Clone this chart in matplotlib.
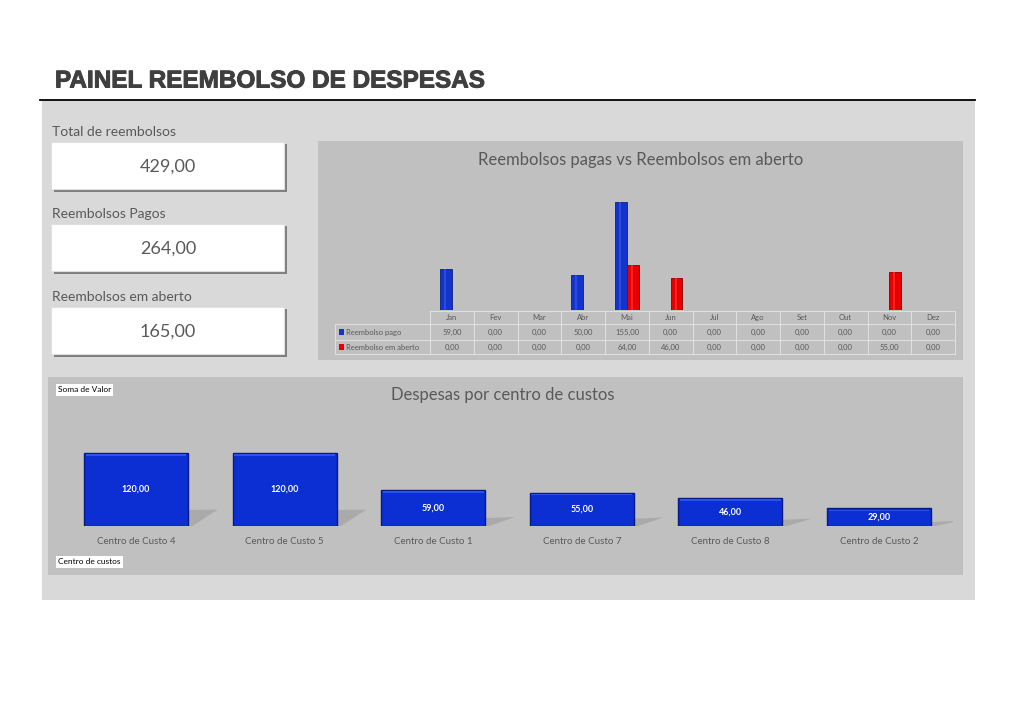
import numpy as np
import matplotlib
matplotlib.use("Agg")
import matplotlib.pyplot as plt
import matplotlib.patheffects as pe
from matplotlib.patches import Rectangle, Polygon
from matplotlib.lines import Line2D

W, H = 1024, 722

# data
kpi_labels = ["Total de reembolsos", "Reembolsos Pagos", "Reembolsos em aberto"]
kpi_values = [429.00, 264.00, 165.00]

meses = ["Jan", "Fev", "Mar", "Abr", "Mai", "Jun", "Jul", "Ago", "Set", "Out", "Nov", "Dez"]
pago = [59, 0, 0, 50, 155, 0, 0, 0, 0, 0, 0, 0]
aberto = [0, 0, 0, 0, 64, 46, 0, 0, 0, 0, 55, 0]
series_names = ["Reembolso pago", "Reembolso em aberto"]

centros = ["Centro de Custo 4", "Centro de Custo 5", "Centro de Custo 1",
           "Centro de Custo 7", "Centro de Custo 8", "Centro de Custo 2"]
valores = [120, 120, 59, 55, 46, 29]


def fx(x):
    return x / W


def fy(y):
    return 1 - y / H


def br(v):
    return ("%.2f" % v).replace(".", ",")


def frect(x0, y0, x1, y1, **kw):
    r = Rectangle((fx(x0), fy(y1)), (x1 - x0) / W, (y1 - y0) / H,
                  transform=fig.transFigure, zorder=-1, **kw)
    fig.add_artist(r)
    return r


def fline(x0, y0, x1, y1, **kw):
    fig.add_artist(Line2D([fx(x0), fx(x1)], [fy(y0), fy(y1)],
                          transform=fig.transFigure, **kw))


plt.rcParams['font.family'] = ['Lato', 'DejaVu Sans']
fig = plt.figure(figsize=(W / 100, H / 100), dpi=100)
fig.patch.set_facecolor("white")

gray_txt = "#595959"

# title and main panel
fig.text(fx(55), fy(81), "PAINEL REEMBOLSO DE DESPESAS", fontsize=17.5,
         fontweight="bold", color="#3f3f3f", family="Liberation Sans",
         va="center", ha="left",
         path_effects=[pe.withStroke(linewidth=0.7, foreground="#3f3f3f")])
frect(42, 100, 975, 600, facecolor="#d9d9d9", edgecolor="none")
fline(40, 100, 975, 100, color="black", lw=1.3)

# KPI boxes
box_tops = [142, 224, 307]
for lab, val, top in zip(kpi_labels, kpi_values, box_tops):
    fig.text(fx(52), fy(top - 10), lab, fontsize=10, color=gray_txt,
             va="center", ha="left")
    frect(54, top + 2, 287, top + 50, facecolor="#7f7f7f", edgecolor="none")
    frect(51, top, 284, top + 47, facecolor="white", edgecolor="#e0e0e0", lw=0.8)
    fig.text(fx(168), fy(top + 25), br(val), fontsize=13, color=gray_txt,
             va="center", ha="center")

# top chart panel
frect(318, 141, 963, 360, facecolor="#c0c0c0", edgecolor="none")
fig.text(fx(641), fy(160), "Reembolsos pagas vs Reembolsos em aberto",
         fontsize=12, color=gray_txt, va="center", ha="center")

ax1 = fig.add_axes([fx(430), fy(310), (955 - 430) / W, (310 - 190) / H])
ax1.set_zorder(5)
ax1.set_facecolor("none")
x = np.arange(len(meses))
bw = 0.27
ax1.bar(x - bw / 2, pago, bw, color="#1234c8", edgecolor="#0a1f80", lw=0.6)
ax1.bar(x + bw / 2, aberto, bw, color="#e60000", edgecolor="#8a0000", lw=0.6)
# softer highlight for cylinder look
ax1.bar(x - bw / 2 - bw * 0.08, pago, bw * 0.18, color="#2b4ae0", lw=0)
ax1.bar(x + bw / 2 - bw * 0.08, aberto, bw * 0.18, color="#ff2020", lw=0)
ax1.set_xlim(-0.5, len(meses) - 0.5)
ax1.set_ylim(0, 172)
ax1.axis("off")

# data table
col_w = (955 - 430) / len(meses)
grid_c = "#dedede"
rows_y = [311, 324, 340, 354]
for i in range(len(meses) + 1):
    xx = 430 + i * col_w
    fline(xx, rows_y[0], xx, rows_y[3], color=grid_c, lw=0.8)
fline(335, rows_y[1], 335, rows_y[3], color=grid_c, lw=0.8)
fline(430, rows_y[0], 955, rows_y[0], color=grid_c, lw=0.8)
for yy in rows_y[1:]:
    fline(335, yy, 955, yy, color=grid_c, lw=0.8)
for i, m in enumerate(meses):
    cx = 430 + (i + 0.5) * col_w
    fig.text(fx(cx), fy(317.5), m, fontsize=5.5, color=gray_txt, ha="center", va="center")
    fig.text(fx(cx), fy(332), br(pago[i]), fontsize=5.5, color=gray_txt, ha="center", va="center")
    fig.text(fx(cx), fy(347), br(aberto[i]), fontsize=5.5, color=gray_txt, ha="center", va="center")
for name, yy, c in zip(series_names, [332, 347], ["#1234c8", "#e60000"]):
    frect(339, yy - 2.5, 344, yy + 2.5, facecolor=c, edgecolor="none")
    fig.text(fx(346), fy(yy), name, fontsize=5.5, color=gray_txt, ha="left", va="center")

# bottom chart panel
frect(48, 377, 963, 575, facecolor="#c0c0c0", edgecolor="none")
fig.text(fx(503), fy(395), "Despesas por centro de custos", fontsize=12,
         color=gray_txt, va="center", ha="center")
fig.text(fx(58), fy(390), "Soma de Valor", fontsize=6, color="black",
         va="center", ha="left",
         bbox=dict(facecolor="white", edgecolor="none", pad=1.5))
fig.text(fx(58), fy(562), "Centro de custos", fontsize=6, color="black",
         va="center", ha="left",
         bbox=dict(facecolor="white", edgecolor="none", pad=1.5))

ax2 = fig.add_axes([fx(61.7), fy(526), 891.6 / W, 116 / H])
ax2.set_zorder(5)
ax2.set_facecolor("none")
xc = np.arange(len(centros))
w2 = 0.70
for xi, v in zip(xc, valores):
    r = xi + w2 / 2
    ax2.add_patch(Polygon([(r, 0), (r, 0.22 * v), (r + 0.2, 0.2 * v + 3), (r + 0.03, 0)],
                          closed=True, facecolor="#8a8a8a", edgecolor="none", alpha=0.4))
ax2.bar(xc, valores, w2, color="#0b2fd2", edgecolor="#061a86", lw=1.0)
ax2.bar(xc, [2.5] * len(valores), w2 * 0.97, bottom=[v - 4.5 for v in valores],
        color="#2c52ee", lw=0)
for xi, v in zip(xc, valores):
    ax2.text(xi, v / 2, br(v), ha="center", va="center", color="white",
             fontsize=6.5, fontweight="bold")
ax2.set_xlim(-0.5, len(centros) - 0.5)
ax2.set_ylim(0, 190.7)
ax2.set_xticks(xc)
ax2.set_xticklabels(centros, fontsize=7, color=gray_txt)
ax2.tick_params(axis="x", length=0, pad=8)
ax2.set_yticks([])
for s in ax2.spines.values():
    s.set_visible(False)

fig.savefig("out.png", dpi=100, facecolor=fig.get_facecolor())
